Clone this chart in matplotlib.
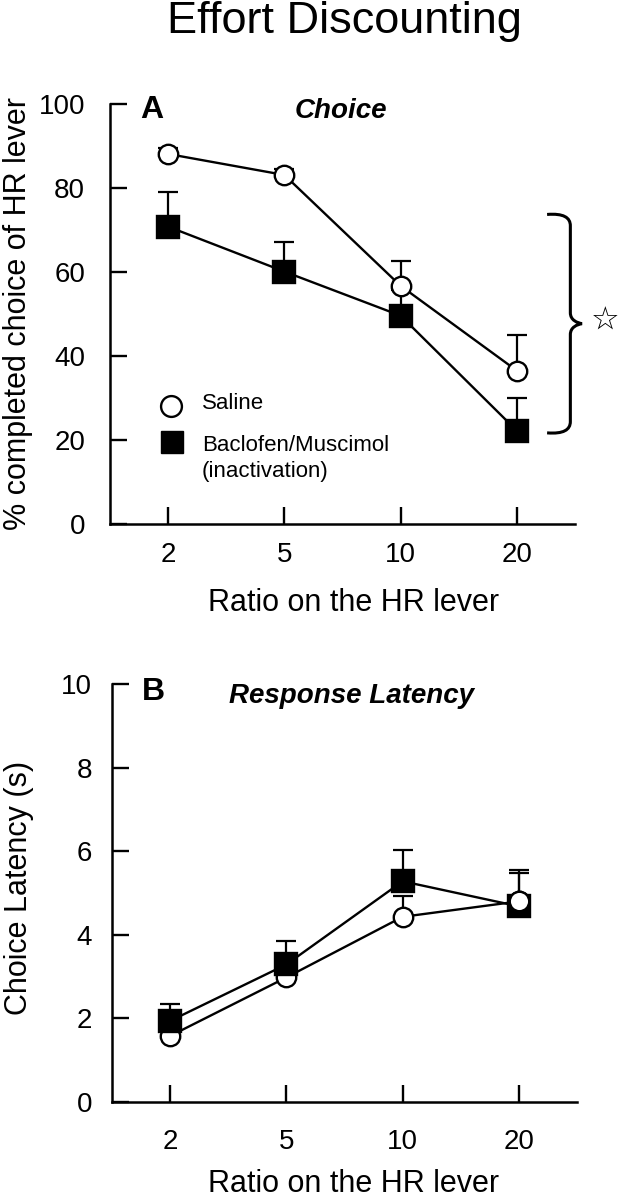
import matplotlib
matplotlib.use('Agg')
import matplotlib.pyplot as plt
from matplotlib.path import Path
from matplotlib.patches import PathPatch

plt.rcParams['font.family'] = ['Liberation Sans', 'DejaVu Sans']

# donnees
ratios = ["2", "5", "10", "20"]
pos = [0, 1, 2, 3]

choice_saline = [88.1, 83.1, 56.7, 36.5]
choice_saline_err = [1.5, 1.5, 6.0, 8.5]
choice_bm = [70.8, 60.1, 49.6, 22.2]
choice_bm_err = [8.2, 7.0, 6.0, 7.8]

lat_saline = [1.58, 2.98, 4.43, 4.80]
lat_saline_err = [0.2, 0.2, 0.49, 0.67]
lat_bm = [1.94, 3.29, 5.28, 4.68]
lat_bm_err = [0.40, 0.56, 0.76, 0.88]

# accolade de significativite (panneau A)
brace_lo = 21.7
brace_hi = 73.7

W, H = 620, 1199


def fx(px):
    return px / W


def fy(py):
    return 1 - py / H


def style_axes(ax, ylim, yticks, xpad, ypad):
    ax.set_xlim(-0.5, 3.5)
    ax.set_ylim(*ylim)
    ax.set_yticks(yticks)
    ax.set_xticks(pos)
    ax.set_xticklabels(ratios)
    for s in ['top', 'right']:
        ax.spines[s].set_visible(False)
    for s in ['left', 'bottom']:
        ax.spines[s].set_linewidth(1.8)
    ax.tick_params(axis='both', direction='in', length=12, width=1.7, labelsize=20)
    ax.tick_params(axis='x', pad=xpad)
    ax.tick_params(axis='y', pad=ypad)


def draw_series(ax, y, err, marker, face, ms, z):
    ax.errorbar(pos, y, yerr=[[0] * len(err), err], fmt='none', ecolor='black',
                elinewidth=1.6, capsize=7, capthick=1.6, zorder=z)
    ax.plot(pos, y, color='black', lw=1.7, marker=marker, ms=ms, mfc=face,
            mec='black', mew=1.7, zorder=z + 0.5)


fig = plt.figure(figsize=(6.2, 11.99), dpi=100)

fig.text(fx(344), fy(33), "Effort Discounting", fontsize=32.5, ha='center', va='baseline')

# Panneau A
axA = fig.add_axes([fx(110), fy(524), 465 / W, 420 / H])
style_axes(axA, (0, 100), [0, 20, 40, 60, 80, 100], 12.7, 18)
draw_series(axA, choice_bm, choice_bm_err, 's', 'black', 15.5, 3)
draw_series(axA, choice_saline, choice_saline_err, 'o', 'white', 14, 5)

axA.text(0.0645, 0.967, "A", transform=axA.transAxes, fontsize=23,
         fontweight='bold', va='baseline', ha='left')
axA.text(0.497, 0.967, "Choice", transform=axA.transAxes, fontsize=20,
         fontweight='bold', fontstyle='italic', va='baseline', ha='center')

# legende
axA.plot([0.131], [0.281], marker='o', ms=15, mfc='white', mec='black', mew=1.7,
         transform=axA.transAxes, clip_on=False)
axA.plot([0.133], [0.195], marker='s', ms=16, mfc='black', mec='black',
         transform=axA.transAxes, clip_on=False)
axA.text(0.198, 0.286, "Saline", transform=axA.transAxes, fontsize=16, va='center')
axA.text(0.198, 0.188, "Baclofen/Muscimol", transform=axA.transAxes, fontsize=16, va='center')
axA.text(0.198, 0.124, "(inactivation)", transform=axA.transAxes, fontsize=16, va='center')

# accolade
mid = (brace_lo + brace_hi) / 2
xa, xs, xt = 3.26, 3.46, 3.56
verts = [
    (xa, brace_hi),
    (3.40, brace_hi + 0.3), (xs, brace_hi - 0.7), (xs, brace_hi - 2.7),
    (xs, mid + 2.6),
    (xs, mid + 0.8), (xt - 0.04, mid + 0.2), (xt, mid),
    (xt - 0.04, mid - 0.2), (xs, mid - 0.8), (xs, mid - 2.6),
    (xs, brace_lo + 2.7),
    (xs, brace_lo + 0.7), (3.40, brace_lo - 0.3), (xa, brace_lo),
]
codes = [Path.MOVETO,
         Path.CURVE4, Path.CURVE4, Path.CURVE4,
         Path.LINETO,
         Path.CURVE4, Path.CURVE4, Path.CURVE4,
         Path.CURVE4, Path.CURVE4, Path.CURVE4,
         Path.LINETO,
         Path.CURVE4, Path.CURVE4, Path.CURVE4]
axA.add_patch(PathPatch(Path(verts, codes), fill=False, lw=2.2, edgecolor='black',
                        clip_on=False))
axA.text(3.76, mid + 0.6, "\u2606", fontsize=23, family=['DejaVu Sans'],
         ha='center', va='center', clip_on=False)

fig.text(fx(354), fy(611), "Ratio on the HR lever", fontsize=22, ha='center', va='baseline')
fig.text(fx(18), fy(314), "% completed choice of HR lever", fontsize=22,
         rotation=90, ha='center', va='center')

# Panneau B
axB = fig.add_axes([fx(112), fy(1102), 465 / W, 418 / H])
style_axes(axB, (0, 10), [0, 2, 4, 6, 8, 10], 19.4, 14.4)
draw_series(axB, lat_saline, lat_saline_err, 'o', 'white', 14, 3)
draw_series(axB, lat_bm, lat_bm_err, 's', 'black', 15.5, 5)
# au ratio 20 le cercle passe au-dessus du carre
axB.plot(pos[3:], lat_saline[3:], ls='none', marker='o', ms=14, mfc='white',
         mec='black', mew=1.7, zorder=7)

axB.text(0.0645, 0.962, "B", transform=axB.transAxes, fontsize=23,
         fontweight='bold', va='baseline', ha='left')
axB.text(0.516, 0.955, "Response Latency", transform=axB.transAxes, fontsize=20,
         fontweight='bold', fontstyle='italic', va='baseline', ha='center')

fig.text(fx(354), fy(1192), "Ratio on the HR lever", fontsize=22, ha='center', va='baseline')
fig.text(fx(19), fy(888), "Choice Latency (s)", fontsize=22,
         rotation=90, ha='center', va='center')

plt.savefig("out.png", dpi=100)
plt.close()
